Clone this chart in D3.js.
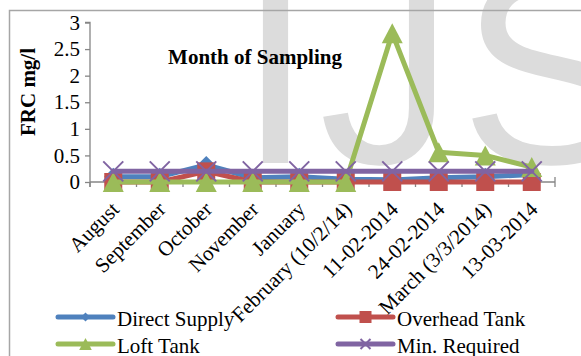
<!DOCTYPE html>
<html>
<head>
<meta charset="utf-8">
<script src="https://cdn.jsdelivr.net/npm/d3@7/dist/d3.min.js"></script>
<style>
  html, body { margin: 0; padding: 0; background: #fff; }
  svg { display: block; }
</style>
</head>
<body>
<svg id="chart" width="581" height="356"></svg>
<script>
// Sampling dates (x categories)
const categories = ["August", "September", "October", "November", "January",
  "February (10/2/14)", "11-02-2014", "24-02-2014", "March (3/3/2014)", "13-03-2014"];

// Free residual chlorine, mg/l
const directSupply = [0.1, 0.1, 0.32, 0.08, 0.1, 0.05, 0.04, 0.08, 0.1, 0.14];
const overheadTank = [0, 0, 0.2, 0, 0, 0, 0, 0, 0, 0];
const loftTank     = [0, 0, 0, 0, 0, 0, 2.8, 0.56, 0.5, 0.28];
const minRequired  = [0.2, 0.2, 0.2, 0.2, 0.2, 0.2, 0.2, 0.2, 0.2, 0.2];

const yTicks = [0, 0.5, 1, 1.5, 2, 2.5, 3];

const seriesNames = ["Direct Supply", "Overhead Tank", "Loft Tank", "Min. Required"];
const seriesValues = [directSupply, overheadTank, loftTank, minRequired];
const seriesColors = ["#4F81BD", "#C0504D", "#9BBB59", "#8064A2"];
const seriesMarkers = ["diamond", "square", "triangle", "x"];

const svg = d3.select("#chart");
const serif = "'Liberation Serif', 'Times New Roman', serif";

// Faint backdrop lettering
svg.append("text")
  .attr("x", 238).attr("y", 163)
  .attr("font-family", "'Liberation Sans', Arial, sans-serif")
  .attr("font-size", 270)
  .attr("letter-spacing", 6)
  .attr("fill", "#dcdcdc")
  .text("IJS");

// Chart frame
svg.append("path")
  .attr("d", "M9.5,356 V10.5 H581")
  .attr("fill", "none")
  .attr("stroke", "#a6a6a6")
  .attr("stroke-width", 1.5);

const x = d3.scaleBand().domain(categories).range([90, 555]);
const y = d3.scaleLinear().domain([0, 3]).range([182, 22.5]);
const cx = c => x(c) + x.bandwidth() / 2;

// Y axis
const yAxis = svg.append("g")
  .attr("transform", "translate(90,0)")
  .call(d3.axisLeft(y).tickValues(yTicks).tickSize(5).tickPadding(5).tickFormat(d3.format("")));
yAxis.select(".domain").attr("stroke", "#868686").attr("stroke-width", 1.3)
  .attr("d", `M-5,${y(3)}H0V187`);
yAxis.selectAll(".tick line").attr("stroke", "#868686").attr("stroke-width", 1.3);
yAxis.selectAll(".tick text")
  .attr("font-family", serif).attr("font-size", 21).attr("fill", "#000");

// X axis: line with tick marks at category boundaries
const xAxisG = svg.append("g");
xAxisG.append("line")
  .attr("x1", 90).attr("x2", 555).attr("y1", y(0)).attr("y2", y(0))
  .attr("stroke", "#868686").attr("stroke-width", 1.3);
const bounds = categories.map(c => x(c)).concat([x(categories[categories.length - 1]) + x.bandwidth()]);
xAxisG.selectAll("line.tk").data(bounds).join("line")
  .attr("class", "tk")
  .attr("x1", d => d).attr("x2", d => d)
  .attr("y1", (d, i) => i === bounds.length - 1 ? y(0) - 5 : y(0))
  .attr("y2", y(0) + 5)
  .attr("stroke", "#868686").attr("stroke-width", 1.3);

// X labels, rotated
svg.append("g").selectAll("text").data(categories).join("text")
  .attr("transform", d => `translate(${cx(d) - 3},${200.5}) rotate(-45)`)
  .attr("text-anchor", "end")
  .attr("dy", "0.68em")
  .attr("font-family", serif).attr("font-size", 21).attr("fill", "#000")
  .text(d => d);

// Marker drawing
function marker(g, type, size, color) {
  const h = size / 2;
  if (type === "diamond") {
    g.append("path").attr("d", `M0,${-h}L${h},0L0,${h}L${-h},0Z`).attr("fill", color);
  } else if (type === "square") {
    g.append("rect").attr("x", -h).attr("y", -h).attr("width", size).attr("height", size).attr("fill", color);
  } else if (type === "triangle") {
    g.append("path").attr("d", `M0,${-h}L${h * 1.05},${h}L${-h * 1.05},${h}Z`).attr("fill", color);
  } else {
    g.append("path").attr("d", `M${-h},${-h}L${h},${h}M${-h},${h}L${h},${-h}`)
      .attr("stroke", color).attr("stroke-width", 2).attr("fill", "none");
  }
}

const markerSizes = [18, 18, 20, 20];
const line = d3.line().x(d => cx(d.c)).y(d => y(d.v));

seriesValues.forEach((vals, i) => {
  const pts = vals.map((v, j) => ({ c: categories[j], v }));
  const g = svg.append("g");
  g.append("path").datum(pts)
    .attr("d", line)
    .attr("fill", "none")
    .attr("stroke", seriesColors[i])
    .attr("stroke-width", 5)
    .attr("stroke-linejoin", "round")
    .attr("stroke-linecap", "round");
  pts.forEach(p => {
    const mg = g.append("g").attr("transform", `translate(${cx(p.c)},${y(p.v)})`);
    marker(mg, seriesMarkers[i], markerSizes[i], seriesColors[i]);
  });
});

// Title
svg.append("text")
  .attr("x", 255).attr("y", 64)
  .attr("text-anchor", "middle")
  .attr("font-family", serif).attr("font-size", 21).attr("font-weight", "bold")
  .text("Month of Sampling");

// Y axis title
svg.append("text")
  .attr("transform", "translate(35,92) rotate(-90)")
  .attr("text-anchor", "middle")
  .attr("font-family", serif).attr("font-size", 21).attr("font-weight", "bold")
  .text("FRC mg/l");

// Legend
const legendPos = [[58, 317], [338, 317], [58, 344], [338, 344]];
const legendMarkerSizes = [9, 12, 12, 10];
seriesNames.forEach((name, i) => {
  const [lx, ly] = legendPos[i];
  const g = svg.append("g").attr("transform", `translate(${lx},${ly})`);
  g.append("line").attr("x1", 0).attr("x2", 55).attr("y1", 0).attr("y2", 0)
    .attr("stroke", seriesColors[i]).attr("stroke-width", 5).attr("stroke-linecap", "round");
  marker(g.append("g").attr("transform", "translate(27.5,0)"), seriesMarkers[i], legendMarkerSizes[i], seriesColors[i]);
  g.append("text")
    .attr("x", 59).attr("y", 8.5)
    .attr("font-family", serif).attr("font-size", 21).attr("fill", "#000")
    .text(name);
});
</script>
</body>
</html>
